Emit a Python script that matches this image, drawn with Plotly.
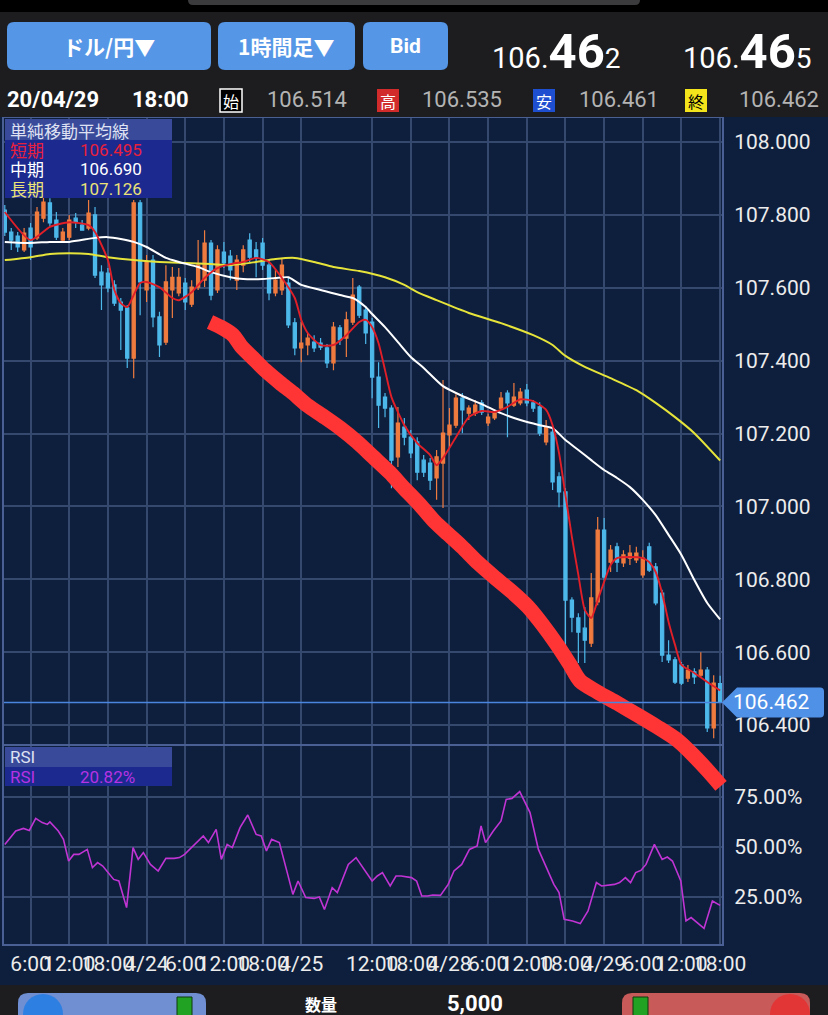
import plotly.graph_objects as go

W, H = 828, 1015

# ---------------- data ----------------
candle_idx = list(range(112))
opens = [107.813,107.753,107.742,107.704,107.764,107.737,107.791,107.833,107.786,107.731,
         107.739,107.791,107.772,107.764,107.800,107.643,107.640,107.608,107.561,107.545,
         107.407,107.833,107.594,107.676,107.520,107.451,107.594,107.586,107.613,107.555,
         107.602,107.621,107.723,107.594,107.698,107.687,107.621,107.662,107.731,107.704,
         107.723,107.662,107.586,107.594,107.613,107.504,107.435,107.443,107.451,107.448,
         107.435,107.394,107.490,107.462,107.506,107.602,107.539,107.506,107.355,107.300,
         107.270,107.136,107.218,107.190,107.177,107.127,107.119,107.078,107.119,107.196,
         107.223,107.297,107.256,107.256,107.284,107.229,107.243,107.270,107.311,107.278,
         107.284,107.319,107.284,107.273,107.177,107.204,107.081,107.040,106.743,106.694,
         106.666,106.625,106.738,106.935,106.847,106.889,106.845,106.858,106.853,106.812,
         106.889,106.834,106.762,106.592,106.579,106.565,106.529,106.546,106.537,106.551,
         106.392,106.514]
highs = [107.827,107.764,107.753,107.764,107.778,107.822,107.849,107.846,107.808,107.764,
         107.800,107.805,107.786,107.841,107.822,107.662,107.654,107.621,107.572,107.553,
         107.841,107.841,107.690,107.690,107.534,107.662,107.657,107.654,107.627,107.621,
         107.731,107.758,107.731,107.717,107.726,107.704,107.690,107.717,107.750,107.726,
         107.737,107.676,107.649,107.682,107.627,107.517,107.506,107.476,107.470,107.462,
         107.446,107.506,107.498,107.534,107.627,107.608,107.550,107.517,107.396,107.311,
         107.278,107.273,107.243,107.210,107.190,107.141,107.133,107.155,107.347,107.270,
         107.308,107.311,107.278,107.292,107.292,107.254,107.265,107.314,107.319,107.339,
         107.325,107.336,107.292,107.286,107.237,107.215,107.094,107.050,106.751,106.707,
         106.724,106.817,106.971,106.968,106.894,106.900,106.880,106.894,106.889,106.880,
         106.900,106.845,106.771,106.633,106.587,106.573,106.565,106.556,106.600,106.559,
         106.537,106.535]
lows = [107.742,107.704,107.698,107.698,107.676,107.731,107.780,107.767,107.731,107.723,
        107.731,107.764,107.758,107.758,107.627,107.539,107.588,107.550,107.429,107.380,
        107.352,107.525,107.561,107.492,107.410,107.443,107.517,107.577,107.539,107.547,
        107.594,107.602,107.566,107.586,107.654,107.621,107.594,107.643,107.671,107.629,
        107.649,107.566,107.577,107.580,107.490,107.415,107.396,107.415,107.424,107.429,
        107.380,107.374,107.443,107.410,107.498,107.517,107.446,107.297,107.215,107.245,
        107.050,107.108,107.168,107.133,107.072,107.081,107.045,107.018,106.996,107.160,
        107.215,107.201,107.237,107.248,107.251,107.221,107.237,107.265,107.190,107.273,
        107.278,107.275,107.259,107.193,107.168,107.045,106.998,106.614,106.655,106.570,
        106.570,106.614,106.729,106.798,106.820,106.820,106.834,106.839,106.845,106.804,
        106.820,106.729,106.573,106.570,106.513,106.510,106.518,106.513,106.529,106.381,
        106.364,106.461]
closes = [107.753,107.731,107.712,107.750,107.712,107.808,107.835,107.778,107.739,107.753,
          107.786,107.780,107.758,107.805,107.635,107.608,107.600,107.558,107.539,107.407,
          107.833,107.616,107.671,107.520,107.443,107.616,107.629,107.629,107.561,107.602,
          107.662,107.723,107.580,107.704,107.668,107.649,107.676,107.704,107.684,107.682,
          107.662,107.586,107.621,107.662,107.498,107.435,107.448,107.462,107.435,107.437,
          107.394,107.492,107.457,107.512,107.580,107.525,107.476,107.355,107.278,107.270,
          107.127,107.229,107.190,107.147,107.094,107.094,107.072,107.136,107.201,107.223,
          107.297,107.265,107.270,107.278,107.259,107.245,107.256,107.297,107.284,107.300,
          107.314,107.284,107.270,107.201,107.218,107.067,107.040,106.743,106.696,106.655,
          106.633,106.749,106.935,106.806,106.880,106.847,106.867,106.872,106.872,106.858,
          106.825,106.735,106.592,106.579,106.518,106.515,106.551,106.532,106.551,106.392,
          106.515,106.462]

ma_short_x = [0,4,7,10,13,14,16,17,18,19,20,21,22,24,26,27,29,31,33,35,37,39,41,43,45,46,47,49,51,53,
              55,56,57,58,59,60,62,64,66,67,68,70,72,74,76,78,80,82,84,85,86,87,88,89,90,91,92,93,94,95,
              97,99,100,101,102,103,104,105,107,109,111]
ma_short_y = [107.808,107.731,107.767,107.780,107.772,107.753,107.676,107.594,107.558,107.547,
              107.580,107.613,107.616,107.602,107.572,107.566,107.588,107.627,107.654,107.665,
              107.671,107.682,107.671,107.627,107.572,107.512,107.476,107.443,107.443,107.470,
              107.506,107.512,107.492,107.448,107.374,107.300,107.223,107.174,107.141,107.113,
              107.133,107.190,107.245,107.262,107.259,107.273,107.294,107.289,107.265,107.223,
              107.147,107.031,106.916,106.812,106.716,106.694,106.743,106.793,106.839,106.858,
              106.861,106.858,106.847,106.820,106.762,106.683,106.620,106.565,106.543,106.518,
              106.495]
ma_mid_x = [0,4,7,10,14,16,18,20,22,25,27,30,32,35,37,40,42,44,45,46,49,52,54,56,57,59,61,63,65,68,
            71,74,77,80,83,85,87,89,91,93,95,97,99,101,103,105,107,109,111]
ma_mid_y = [107.726,107.723,107.726,107.726,107.737,107.739,107.734,107.726,107.712,107.682,
            107.671,107.657,107.643,107.629,107.624,107.624,107.627,107.629,107.619,107.608,
            107.594,107.580,107.572,107.547,107.528,107.492,107.451,107.410,107.380,107.330,
            107.303,107.281,107.256,107.237,107.223,107.215,107.182,107.155,107.127,107.100,
            107.078,107.053,107.018,106.976,106.922,106.867,106.798,106.735,106.690]
ma_long_x = [0,4,7,10,13,16,20,24,28,32,35,39,42,45,48,51,55,59,62,64,67,72,77,82,85,87,90,94,98,101,
             104,107,111]
ma_long_y = [107.676,107.684,107.693,107.695,107.693,107.684,107.676,107.671,107.668,107.665,
             107.662,107.671,107.679,107.682,107.671,107.657,107.646,107.629,107.608,107.588,
             107.566,107.531,107.503,107.470,107.443,107.413,107.383,107.352,107.319,107.284,
             107.245,107.201,107.126]

rsi_x = [0,1.7,2.9,3.8,4.8,5.8,6.6,7.0,8.3,9.1,9.9,10.7,11.5,12.8,13.6,14.4,15.2,16.0,16.9,17.7,
         18.9,19.9,20.7,21.5,22.6,23.8,25.0,26.3,27.1,27.9,28.7,30.0,30.8,31.6,32.8,33.6,34.5,35.3,36.5,37.7,
         39.0,39.8,40.6,41.4,42.6,43.9,44.7,45.5,46.7,48.0,48.8,49.6,50.8,51.6,53.3,54.5,55.7,57.0,57.8,58.6,
         59.8,60.7,61.5,63.1,63.9,64.7,65.6,66.4,67.6,68.8,69.7,70.9,72.1,73.3,73.9,74.6,75.8,77.0,77.8,78.7,
         79.9,80.7,81.5,82.8,84.0,85.2,86.0,86.8,88.1,89.3,90.5,91.8,92.6,94.6,95.4,96.3,97.1,97.9,98.7,99.5,
         100.8,102.0,102.8,103.6,104.9,105.7,106.5,107.7,108.5,109.8,111]
rsi_y = [51.3,58.0,59.3,58.3,64.3,62.2,61.3,62.5,58.0,53.8,43.0,46.3,46.3,48.8,39.7,42.2,40.5,37.2,33.8,33.0,
         19.7,49.7,43.8,47.2,41.3,38.0,44.3,44.3,44.7,46.3,48.8,53.0,55.5,52.2,58.8,43.8,51.3,49.7,59.7,66.0,
         56.3,55.5,48.0,53.8,52.2,36.3,26.3,33.0,24.7,24.3,25.0,18.8,29.7,27.2,41.3,44.7,38.8,33.0,35.5,37.2,
         30.5,35.5,35.5,34.7,33.0,25.5,25.5,26.0,25.8,31.3,38.0,41.3,48.8,50.5,60.5,52.2,58.0,63.0,73.8,74.3,
         77.7,72.2,67.2,48.8,39.7,31.3,27.2,13.8,13.0,11.7,18.0,32.2,30.5,31.3,32.2,34.7,32.2,37.2,38.3,41.3,
         51.3,43.8,45.0,43.0,33.0,13.0,14.7,11.3,9.3,23.0,20.82]

# hand-drawn marker stroke (in chart index / price units)
stroke_x = [31.84,33.70,35.41,36.65,38.51,40.37,42.70,44.72,46.89,49.37,52.01,54.65,57.13,59.77,61.78,
            64.42,66.75,68.77,70.94,73.42,76.06,78.70,81.18,83.35,85.68,87.70,89.25,91.89,94.99,98.09,
            101.19,104.30,106.31,108.95,111.13]
stroke_y = [107.506,107.490,107.470,107.440,107.407,107.374,107.339,107.311,107.278,107.248,107.215,107.177,
            107.136,107.092,107.053,107.004,106.957,106.924,106.889,106.845,106.804,106.765,106.724,106.677,
            106.620,106.565,106.521,106.491,106.460,106.428,106.395,106.359,106.326,106.277,106.233]

grid_idx = [4,10,16,22,28,34,40,46,57,63,69,75,81,87,93,99,105,111]
grid_labels = ["6:00","12:00","18:00","4/24","6:00","12:00","18:00","4/25",
               "12:00","18:00","4/28","6:00","12:00","18:00","4/29","6:00","12:00","18:00"]
price_ticks = [106.4,106.6,106.8,107.0,107.2,107.4,107.6,107.8,108.0]
rsi_ticks = [25,50,75]

bid_price = "106.462"
ask_price = "106.465"
bar_date = "20/04/29"
bar_time = "18:00"
order_qty = "5,000"

# ---------------- style ----------------
NAVY = "#0e1f3d"
GRID = "#35496e"
BORDER = "#4a5f94"
UP = "#f07b3f"
DOWN = "#4db8ea"
RED_MA = "#e01f28"
YEL_MA = "#e6e43a"
RSI_C = "#c034d4"
FONT = "Roboto, Noto Sans CJK JP, sans-serif"
JP = "Noto Sans CJK JP, sans-serif"

def X(x):
    return x / W

def Y(y):
    return 1 - y / H

X_LO, X_HI = -0.124, 111.29
Y_LO, Y_HI = 106.348, 108.066
MAIN_TOP, MAIN_BOT = 118, 744

def price_py(p):
    return MAIN_TOP + (Y_HI - p) / (Y_HI - Y_LO) * (MAIN_BOT - MAIN_TOP)

fig = go.Figure()

fig.add_trace(go.Candlestick(
    x=candle_idx, open=opens, high=highs, low=lows, close=closes,
    increasing=dict(line=dict(color=UP, width=1.2), fillcolor=UP),
    decreasing=dict(line=dict(color=DOWN, width=1.2), fillcolor=DOWN),
    whiskerwidth=0, xaxis="x", yaxis="y", hoverinfo="skip"))
fig.add_trace(go.Scatter(x=ma_long_x, y=ma_long_y, mode="lines",
                         line=dict(color=YEL_MA, width=2, shape="spline", smoothing=0.6),
                         xaxis="x", yaxis="y", hoverinfo="skip"))
fig.add_trace(go.Scatter(x=ma_mid_x, y=ma_mid_y, mode="lines",
                         line=dict(color="#ffffff", width=2, shape="spline", smoothing=0.6),
                         xaxis="x", yaxis="y", hoverinfo="skip"))
fig.add_trace(go.Scatter(x=ma_short_x, y=ma_short_y, mode="lines",
                         line=dict(color=RED_MA, width=1.9, shape="spline", smoothing=0.6),
                         xaxis="x", yaxis="y", hoverinfo="skip"))
fig.add_trace(go.Scatter(x=rsi_x, y=rsi_y, mode="lines",
                         line=dict(color=RSI_C, width=1.6),
                         xaxis="x2", yaxis="y2", hoverinfo="skip"))
fig.add_trace(go.Scatter(x=stroke_x, y=stroke_y, mode="lines",
                         line=dict(color="#ff3434", width=15, shape="spline", smoothing=0.8),
                         xaxis="x3", yaxis="y3", hoverinfo="skip"))

common_x = dict(range=[X_LO, X_HI], domain=[X(4), X(722)], tickvals=grid_idx,
                showgrid=True, gridcolor=GRID, gridwidth=1.5, zeroline=False,
                showline=True, mirror=True, linecolor=BORDER, linewidth=2,
                fixedrange=True, ticks="", automargin=False)

fig.update_layout(
    width=W, height=H, autosize=False,
    margin=dict(l=0, r=0, t=0, b=0, pad=0),
    paper_bgcolor=NAVY, plot_bgcolor="rgba(0,0,0,0)",
    showlegend=False, hovermode=False,
    font=dict(family=FONT, color="#ececec"),
    xaxis=dict(**common_x, anchor="y", showticklabels=False, rangeslider=dict(visible=False)),
    yaxis=dict(range=[Y_LO, Y_HI], domain=[Y(MAIN_BOT), Y(MAIN_TOP)], anchor="x", side="right",
               tickvals=price_ticks, ticktext=[f"{v:.3f}" for v in price_ticks],
               tickfont=dict(size=21, color="#ececec", family=FONT),
               showgrid=True, gridcolor=GRID, gridwidth=1.5, zeroline=False,
               showline=True, mirror=True, linecolor=BORDER, linewidth=2,
               ticks="", ticklabelstandoff=6, fixedrange=True, automargin=False),
    xaxis2=dict(**common_x, anchor="y2", ticktext=grid_labels, showticklabels=True,
                tickangle=0, tickfont=dict(size=21, color="#ececec", family=FONT),
                ticklabelstandoff=0),
    yaxis2=dict(range=[1.5, 100.5], domain=[Y(944), Y(746)], anchor="x2", side="right",
                tickvals=rsi_ticks, ticktext=[f"{v:.2f}%" for v in rsi_ticks],
                tickfont=dict(size=21, color="#ececec", family=FONT),
                showgrid=True, gridcolor=GRID, gridwidth=1.5, zeroline=False,
                showline=True, mirror=True, linecolor=BORDER, linewidth=2,
                ticks="", ticklabelstandoff=6, fixedrange=True, automargin=False),
    xaxis3=dict(range=[X_LO, 114.07], domain=[X(4), X(740)], anchor="y3", visible=False,
                fixedrange=True, automargin=False),
    yaxis3=dict(range=[106.194, Y_HI], domain=[Y(800), Y(MAIN_TOP)], anchor="x3", visible=False,
                fixedrange=True, automargin=False),
)

shapes = []
annots = []

def rect(x0, y0, x1, y1, color, line=None, layer="above"):
    shapes.append(dict(type="rect", xref="paper", yref="paper", x0=X(x0), x1=X(x1),
                       y0=Y(y1), y1=Y(y0), fillcolor=color,
                       line=dict(width=0) if line is None else line, layer=layer))

def rrect(x0, y0, x1, y1, r, color, line=None):
    p = (f"M {X(x0+r)},{Y(y0)} L {X(x1-r)},{Y(y0)} Q {X(x1)},{Y(y0)} {X(x1)},{Y(y0+r)} "
         f"L {X(x1)},{Y(y1-r)} Q {X(x1)},{Y(y1)} {X(x1-r)},{Y(y1)} L {X(x0+r)},{Y(y1)} "
         f"Q {X(x0)},{Y(y1)} {X(x0)},{Y(y1-r)} L {X(x0)},{Y(y0+r)} Q {X(x0)},{Y(y0)} {X(x0+r)},{Y(y0)} Z")
    shapes.append(dict(type="path", xref="paper", yref="paper", path=p, fillcolor=color,
                       line=dict(width=0) if line is None else line, layer="above"))

def circle(cx, cy, r, color):
    shapes.append(dict(type="circle", xref="paper", yref="paper", x0=X(cx-r), x1=X(cx+r),
                       y0=Y(cy+r), y1=Y(cy-r), fillcolor=color, line=dict(width=0), layer="above"))

def text(x, y, s, size, color="#ffffff", xanchor="center", family=FONT):
    annots.append(dict(xref="paper", yref="paper", x=X(x), y=Y(y), text=s, showarrow=False,
                       xanchor=xanchor, yanchor="middle", font=dict(size=size, color=color, family=family)))

# header background
rect(0, -2, 828, 117, "#1d1d1f")
rect(0, -2, 828, 12, "#000000")
rrect(188, -20, 640, 5, 5, "#3b3b3d")

# buttons
BTN = "#5596e6"
rrect(7, 22, 211, 70, 7, BTN)
rrect(218, 22, 355, 70, 7, BTN)
rrect(363, 22, 448, 70, 7, BTN)
text(109, 46, "<b>ドル/円▼</b>", 21, family=JP)
text(286, 46, "<b>1時間足▼</b>", 21, family=JP)
text(405, 46, "<b>Bid</b>", 21)

def big_price(s):
    return f"{s[:4]}<b><span style='font-size:49px'>{s[4:6]}</span></b><span style='font-size:28px'>{s[6:]}</span>"

text(556, 51, big_price(bid_price), 29)
text(747, 51, big_price(ask_price), 29)

# OHLC row
text(5, 100, f"<b>{bar_date}</b>", 22, xanchor="left")
text(130, 100, f"<b>{bar_time}</b>", 22, xanchor="left")
icon_specs = [(220, "始", "#000000", "#ffffff", "#ffffff"),
              (377, "高", "#d12b2b", "#ffffff", None),
              (533, "安", "#1f4fd1", "#ffffff", None),
              (685, "終", "#f3e41c", "#000000", None)]
ohlc_vals = [opens[-1], highs[-1], lows[-1], closes[-1]]
val_x = [265, 420, 577, 737]
for (ix, ch, bg, fg, bd), v, vx in zip(icon_specs, ohlc_vals, val_x):
    rect(ix, 89, ix + 22, 112, bg, line=dict(color=bd, width=1.5) if bd else None)
    text(ix + 11, 100.5, ch, 16, color=fg, family=JP)
    text(vx, 100, f"{v:.3f}", 22, color="#b4b4b4", xanchor="left")

# MA legend box
rect(5, 119, 172, 140, "#3a4a9b")
rect(5, 140, 172, 198, "#1c2a8f")
text(8, 130, "単純移動平均線", 17, color="#dfe2f2", xanchor="left", family=JP)
for yy, lab, col, val in [(149.5, "短期", "#e8203c", ma_short_y[-1]),
                          (169, "中期", "#ffffff", ma_mid_y[-1]),
                          (188.5, "長期", "#ebe377", ma_long_y[-1])]:
    text(8, yy, lab, 17, color=col, xanchor="left", family=JP)
    text(78, yy, f"{val:.3f}", 17, color=col, xanchor="left")

# RSI legend box
rect(5, 747, 172, 767, "#3a4a9b")
rect(5, 767, 172, 786, "#1c2a8f")
text(8, 757, "RSI", 17, color="#dfe2f2", xanchor="left")
text(8, 776.5, "RSI", 17, color="#b632e2", xanchor="left")
text(78, 776.5, f"{rsi_y[-1]:.2f}%", 17, color="#b632e2", xanchor="left")

# current price line and tag
shapes.append(dict(type="line", xref="x domain", yref="y", x0=0, x1=1,
                   y0=closes[-1], y1=closes[-1], line=dict(color="#4a86e0", width=1.5), layer="above"))
yc = price_py(closes[-1])
tag = (f"M {X(722)},{Y(yc)} L {X(737)},{Y(yc-15)} L {X(820)},{Y(yc-15)} "
       f"Q {X(824)},{Y(yc-15)} {X(824)},{Y(yc-11)} L {X(824)},{Y(yc+11)} "
       f"Q {X(824)},{Y(yc+15)} {X(820)},{Y(yc+15)} L {X(737)},{Y(yc+15)} Z")
shapes.append(dict(type="path", xref="paper", yref="paper", path=tag, fillcolor="#5091e8",
                   line=dict(width=0), layer="above"))
annots.append(dict(xref="paper", yref="y", x=X(771), y=closes[-1], text=f"{closes[-1]:.3f}",
                   showarrow=False, xanchor="center", yanchor="middle",
                   font=dict(size=21, color="#ffffff", family=FONT)))

# bottom order bar
rect(0, 985, 828, 1017, "#1d1d1f")
rrect(18, 993, 206, 1040, 10, "#6f8fd2")
circle(43, 1014, 20, "#2e7fe2")
rect(177, 997, 192, 1017, "#22a222", line=dict(color="#0c3a0c", width=1))
text(321, 1004, "<b>数量</b>", 16, family=JP)
text(475, 1003, f"<b>{order_qty}</b>", 22)
rrect(622, 993, 810, 1040, 10, "#c85a5a")
rect(633, 997, 648, 1017, "#22a222", line=dict(color="#0c3a0c", width=1))
circle(790, 1014, 20, "#e23636")

fig.update_layout(shapes=shapes, annotations=annots)

fig.write_html("out.html")
